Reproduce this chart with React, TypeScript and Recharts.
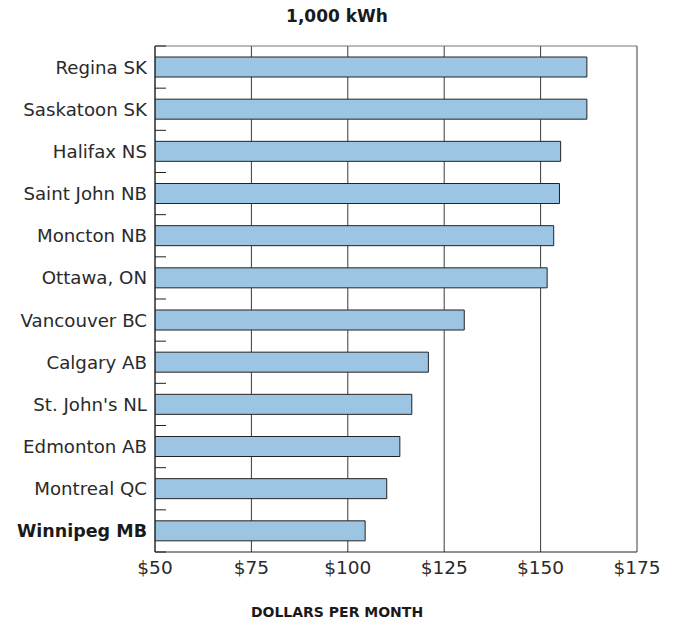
import React from "react";
import { BarChart, Bar, XAxis, YAxis, CartesianGrid } from "recharts";

const categories = [
  "Regina SK",
  "Saskatoon SK",
  "Halifax NS",
  "Saint John NB",
  "Moncton NB",
  "Ottawa, ON",
  "Vancouver BC",
  "Calgary AB",
  "St. John's NL",
  "Edmonton AB",
  "Montreal QC",
  "Winnipeg MB",
];
const values = [162.0, 162.0, 155.2, 154.9, 153.4, 151.7, 130.2, 120.9, 116.6, 113.5, 110.1, 104.5];
const xTicks = [50, 75, 100, 125, 150, 175];
const highlighted = "Winnipeg MB";
const title = "1,000 kWh";
const xTitle = "DOLLARS PER MONTH";

const data = categories.map((c, i) => ({ city: c, value: values[i] }));

const W = 676;
const H = 620;
const M = { top: 46, right: 39, bottom: 38, left: 0 };
const Y_W = 155;
const X_H = 30;
const FONT = "'DejaVu Sans', sans-serif";
const plotH = H - M.top - M.bottom - X_H;
const band = plotH / categories.length;

const CityTick = (props: any) => {
  const { y, payload, index } = props;
  const bold = payload.value === highlighted;
  const x0 = Y_W;
  return (
    <g>
      <line x1={x0} x2={x0 + 11} y1={y - band / 2} y2={y - band / 2} stroke="#222" strokeWidth={1} />
      {index === categories.length - 1 && (
        <line x1={x0} x2={x0 + 11} y1={y + band / 2} y2={y + band / 2} stroke="#222" strokeWidth={1} />
      )}
      <text
        x={x0 - 8}
        y={y}
        dy="0.36em"
        textAnchor="end"
        fontSize={bold ? 17.5 : 18.2}
        fontFamily={FONT}
        fontWeight={bold ? 700 : 400}
        fill={bold ? "#1a1a1a" : "#2a2a2a"}
      >
        {payload.value}
      </text>
    </g>
  );
};

export default function App() {
  return (
    <div style={{ position: "absolute", left: 0, top: 0, width: W, height: H, background: "#fff", fontFamily: FONT, overflow: "hidden" }}>
      <div
        style={{
          position: "absolute",
          left: 0,
          width: 674,
          top: 6,
          textAlign: "center",
          fontSize: 17,
          fontWeight: 700,
          color: "#1a1a1a",
        }}
      >
        {title}
      </div>
      <BarChart
        width={W}
        height={H}
        data={data}
        layout="vertical"
        margin={M}
        barCategoryGap={0}
      >
        <CartesianGrid horizontal={false} vertical={true} stroke="#3a3a3a" strokeWidth={1} />
        <CartesianGrid
          vertical={false}
          horizontal={true}
          stroke="#777"
          strokeWidth={1}
          horizontalCoordinatesGenerator={(p: any) => [p.offset.top]}
        />
        <XAxis
          type="number"
          dataKey="value"
          domain={[50, 175]}
          ticks={xTicks}
          allowDataOverflow
          tickFormatter={(v: number) => `$${v}`}
          tick={{ fontSize: 18.5, fill: "#2a2a2a", fontFamily: FONT }}
          tickLine={false}
          axisLine={{ stroke: "#222" }}
          height={X_H}
          tickMargin={3}
        />
        <YAxis
          type="category"
          dataKey="city"
          width={Y_W}
          axisLine={{ stroke: "#222" }}
          tickLine={false}
          tick={<CityTick />}
          interval={0}
        />
        <Bar dataKey="value" fill="#9cc5e3" stroke="#222" strokeWidth={1} barSize={20} isAnimationActive={false} />
      </BarChart>
      <div
        style={{
          position: "absolute",
          left: 0,
          width: 674,
          top: 605,
          height: 15,
          lineHeight: "15px",
          textAlign: "center",
          fontSize: 14,
          fontWeight: 700,
          color: "#1a1a1a",
        }}
      >
        {xTitle}
      </div>
    </div>
  );
}
